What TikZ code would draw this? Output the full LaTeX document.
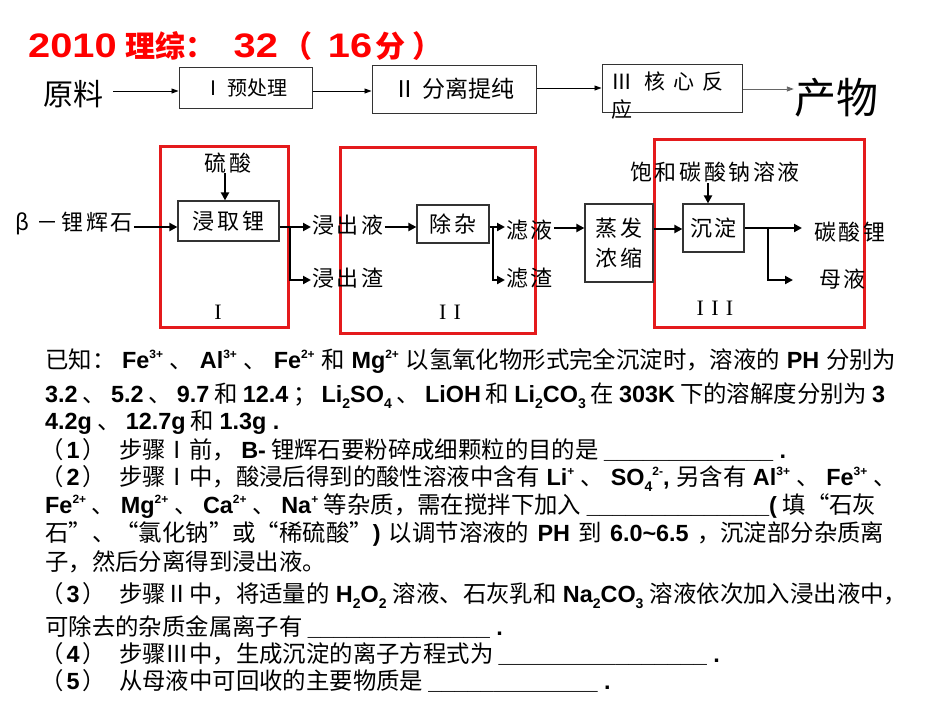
\documentclass[tikz,border=0pt]{standalone}
\usepackage{fontspec}
\setmainfont{Noto Sans CJK SC}
\newfontfamily\arb{Liberation Sans}
\newfontfamily\serf{Liberation Serif}
\newfontfamily\flowf{Noto Sans CJK SC}[LetterSpace=12]
\usetikzlibrary{arrows.meta}
\definecolor{boxred}{RGB}{228,26,28}
\XeTeXlinebreaklocale "zh"
\XeTeXlinebreakskip=0pt plus 3pt
\newcommand\en[1]{{\arb\bfseries #1}}
\newcommand\sps[1]{\raisebox{0.42em}{\fontsize{12}{12}\selectfont\arb\bfseries #1}}
\newcommand\sbs[1]{\raisebox{-0.28em}{\fontsize{14}{14}\selectfont\arb\bfseries #1}}
\newcommand\dig[1]{\scalebox{1.17}[1]{\arb\bfseries\fontsize{34}{34}\selectfont #1}}
\newcommand\pn[1]{（\hspace{3pt}\en{#1}\hspace{3pt}）\hspace{13pt}}
\begin{document}
\begin{tikzpicture}[x=1pt,y=-1pt,
  ql/.style={anchor=base west, inner sep=0pt, font=\fontsize{23.4}{28}\selectfont},
  pbox/.style={draw=black!80, line width=1pt, inner sep=0pt, font=\fontsize{20}{24}\selectfont},
  tarr/.style={line width=0.9pt, -{Triangle[length=7pt,width=5pt]}},
  fbox/.style={draw=black!80, line width=1.2pt, inner sep=0pt, font=\flowf\fontsize{22}{30}\selectfont, align=center},
  ft/.style={inner sep=1pt, font=\flowf\fontsize{22}{26}\selectfont},
  farr/.style={line width=2.4pt, -{Triangle[length=8pt,width=8pt]}},
  fln/.style={line width=2.4pt},
  rbox/.style={draw=boxred, line width=3pt},
  rlab/.style={inner sep=0pt, font=\serf\fontsize{22}{24}\selectfont}
]
\fill[white] (0,0) rectangle (950,713);
\useasboundingbox (0,0) rectangle (950,713);

% title
\node[anchor=base west, inner sep=0pt, text=red] (title) at (28,57)
  {\fontsize{30}{32}\selectfont\bfseries\dig{2010}\hspace{9pt}理综：\hspace{18pt}\dig{32}\hspace{5pt}（\hspace{15pt}\dig{16}\hspace{3pt}分\hspace{7pt}）};

% top row
\node[inner sep=0pt, font=\fontsize{30}{32}\selectfont] (yl) at (73,94) {原料};
\node[pbox, minimum width=133pt, minimum height=41pt] (p1) at (245.5,87.5) {Ⅰ 预处理\hspace{16pt}};
\node[pbox, minimum width=164pt, minimum height=48pt, font=\fontsize{23}{26}\selectfont] (p2) at (454,89) {Ⅱ 分离提纯};
\node[pbox, minimum width=140pt, minimum height=48pt] (p3) at (672,88) {};
\node[anchor=north west, inner sep=0pt, align=left, font=\fontsize{21}{28}\selectfont] (p3t) at (611,72)
  {Ⅲ\hspace{12pt}核\hspace{8pt}心\hspace{8pt}反\\应};
\node[inner sep=0pt, font=\fontsize{42}{44}\selectfont] (cw) at (836,98) {产物};
\draw[tarr] (yl.east |- 0,91) ++(10,0) -- (p1.west |- 0,91);
\draw[tarr] (p1.east |- 0,91) -- (p2.west |- 0,91);
\draw[tarr] (p2.east |- 0,88) -- (p3.west |- 0,88);
\draw[tarr, draw=black!60, fill=black!60] (p3.east |- 0,89) -- (cw.west |- 0,89);

% red frames
\draw[rbox] (160,146) rectangle (288,327);
\draw[rbox] (340,147) rectangle (535,333);
\draw[rbox] (654,139) rectangle (864,327);
\node[rlab] (lI) at (218,312) {I};
\node[rlab] (lII) at (450,312) {I\,\,I};
\node[rlab] (lIII) at (715,308) {I\,\,I\,\,I};

% flow chart
\node[ft] (beta) at (74,223) {β －锂辉石};
\node[fbox, minimum width=101pt, minimum height=40pt] (jq) at (228.5,221) {浸取锂};
\node[ft] (ls) at (228,163) {硫酸};
\node[ft, anchor=west] (jcy) at (311,225) {浸出液};
\node[ft, anchor=west] (jcz) at (311,278) {浸出渣};
\node[fbox, minimum width=72pt, minimum height=38pt] (cz) at (453,224) {除杂};
\node[ft, anchor=west] (lvy) at (505,230) {滤液};
\node[ft, anchor=west] (lvz) at (505,278) {滤渣};
\node[fbox, minimum width=68pt, minimum height=78pt] (zf) at (619,243) {蒸发\\浓缩};
\node[fbox, minimum width=61pt, minimum height=48pt] (cd) at (713.5,228) {沉淀};
\node[ft] (bh) at (715,172) {饱和碳酸钠溶液};
\node[ft, anchor=west] (tsl) at (813,232) {碳酸锂};
\node[ft, anchor=west] (my) at (818,279) {母液};

\coordinate (f1) at (290,227);
\coordinate (f2) at (493,227);
\coordinate (f3) at (768,228);
\draw[farr] (beta.east |- 0,227) -- (jq.west |- 0,227);
\draw[farr] (225,173) -- (jq.north -| 225,0);
\draw[fln] (jq.east |- f1) -- (f1);
\draw[farr] (f1) -- (jcy.west |- f1);
\draw[farr] ([yshift=1.2pt]f1) |- (jcz.west |- 0,280);
\draw[farr] (jcy.east |- 0,227) -- (cz.west |- 0,227);
\draw[fln] (cz.east |- f2) -- (f2);
\draw[farr] (f2) -- (lvy.west |- f2);
\draw[farr] ([yshift=1.2pt]f2) |- (lvz.west |- 0,280);
\draw[farr] (lvy.east |- 0,228) -- (zf.west |- 0,228);
\draw[farr] (zf.east |- 0,229) -- (cd.west |- 0,229);
\draw[farr] (708,183) -- (cd.north -| 708,0);
\draw[fln] (cd.east |- f3) -- (f3);
\draw[farr] (f3) -- (802,228);
\draw[farr] ([yshift=1.2pt]f3) |- (793,280);

% question text
\node[ql] (q1) at (45,368) {\makebox[851pt][s]{已知： \en{Fe}\sps{3+} 、 \en{Al}\sps{3+} 、 \en{Fe}\sps{2+} 和 \en{Mg}\sps{2+} 以氢氧化物形式完全沉淀时，溶液的 \en{PH} 分别为}};
\node[ql] (q2) at (45,402) {\makebox[840pt][s]{\en{3.2} 、 \en{5.2} 、 \en{9.7} 和 \en{12.4} ； \en{Li}\sbs{2}\en{SO}\sbs{4} 、 \en{LiOH} 和 \en{Li}\sbs{2}\en{CO}\sbs{3} 在 \en{303K} 下的溶解度分别为 \en{3}}};
\node[ql] (q3) at (45,429) {\en{4.2g} 、 \en{12.7g} 和 \en{1.3g .}};
\node[ql] (q4) at (40,458) {\pn{1}步骤Ⅰ前， \en{B-} 锂辉石要粉碎成细颗粒的目的是 \en{\_\_\_\_\_\_\_\_\_\_\_\_\_ .}};
\node[ql] (q5) at (40,485) {\makebox[857pt][s]{\pn{2}步骤Ⅰ中，酸浸后得到的酸性溶液中含有 \en{Li}\sps{+} 、 \en{SO}\sbs{4}\sps{2-}\en{,} 另含有 \en{Al}\sps{3+} 、 \en{Fe}\sps{3+} 、}};
\node[ql] (q6) at (45,513) {\makebox[831pt][s]{\en{Fe}\sps{2+} 、 \en{Mg}\sps{2+} 、 \en{Ca}\sps{2+} 、 \en{Na}\sps{+} 等杂质，需在搅拌下加入 \en{\_\_\_\_\_\_\_\_\_\_\_\_\_\_(} 填“石灰}};
\node[ql] (q7) at (45,541) {\makebox[839pt][s]{石”、“氯化钠”或“稀硫酸”\en{)} 以调节溶液的 \en{PH} 到 \en{6.0\textasciitilde6.5} ，沉淀部分杂质离}};
\node[ql] (q8) at (45,570) {子，然后分离得到浸出液。};
\node[ql] (q9) at (40,602) {\makebox[867pt][s]{\pn{3}步骤Ⅱ中，将适量的 \en{H}\sbs{2}\en{O}\sbs{2} 溶液、石灰乳和 \en{Na}\sbs{2}\en{CO}\sbs{3} 溶液依次加入浸出液中，}};
\node[ql] (q10) at (45,635) {可除去的杂质金属离子有 \en{\_\_\_\_\_\_\_\_\_\_\_\_\_\_ .}};
\node[ql] (q11) at (40,662) {\pn{4}步骤Ⅲ中，生成沉淀的离子方程式为 \en{\_\_\_\_\_\_\_\_\_\_\_\_\_\_\_\_ .}};
\node[ql] (q12) at (40,689) {\pn{5}从母液中可回收的主要物质是 \en{\_\_\_\_\_\_\_\_\_\_\_\_\_ .}};
\end{tikzpicture}
\end{document}
